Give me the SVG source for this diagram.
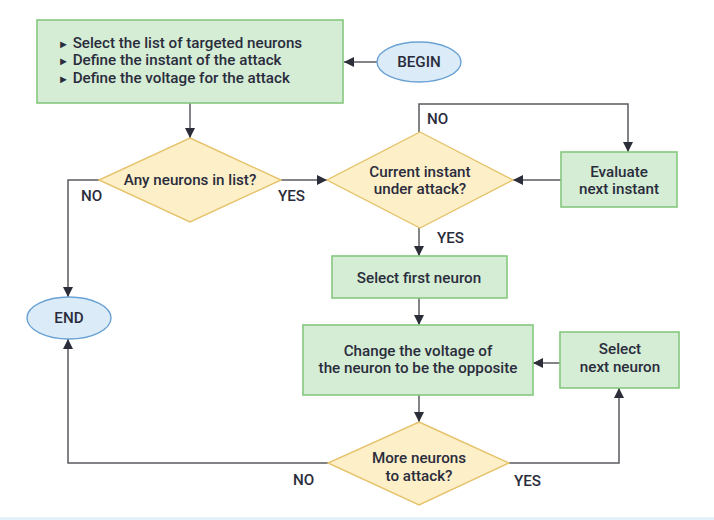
<svg xmlns="http://www.w3.org/2000/svg" width="714" height="520" viewBox="0 0 714 520">
<defs>
<marker id="ah" viewBox="0 0 10 10" refX="10" refY="5" markerWidth="10" markerHeight="10" markerUnits="userSpaceOnUse" orient="auto">
<path d="M0,0 L10,5 L0,10 Z" fill="#2b2d38"/>
</marker>
<style>
.box{fill:#d5ecd5;stroke:#86c87e;stroke-width:1.6}
.dia{fill:#fdf0c9;stroke:#e6c26a;stroke-width:1.4}
.ell{fill:#dcebf8;stroke:#6aa2d4;stroke-width:1.4}
.t{font-family:Roboto,"Liberation Sans",sans-serif;font-weight:500;font-size:15.2px;fill:#2a2c3c}
.c{text-anchor:middle}
.ln{fill:none;stroke:#5a5a60;stroke-width:1.5}
.bul{font-size:11px}
</style>
</defs>
<rect x="0" y="0" width="714" height="520" fill="#ffffff"/>
<rect x="0" y="517" width="714" height="3" fill="#e3f2f8"/>

<g id="connectors">
<path class="ln" d="M377,62 H344" marker-end="url(#ah)"/>
<path class="ln" d="M190,103 V138" marker-end="url(#ah)"/>
<path class="ln" d="M281,180 H327" marker-end="url(#ah)"/>
<path class="ln" d="M99,180 H68 V297" marker-end="url(#ah)"/>
<path class="ln" d="M419,132 V104 H628 V152" marker-end="url(#ah)"/>
<path class="ln" d="M561,180 H513" marker-end="url(#ah)"/>
<path class="ln" d="M419,228 V256" marker-end="url(#ah)"/>
<path class="ln" d="M419,298 V325" marker-end="url(#ah)"/>
<path class="ln" d="M560,363 H533" marker-end="url(#ah)"/>
<path class="ln" d="M419,395 V422" marker-end="url(#ah)"/>
<path class="ln" d="M328,463 H68 V339" marker-end="url(#ah)"/>
<path class="ln" d="M509,463 H619 V388" marker-end="url(#ah)"/>
<text class="t" x="81" y="201">NO</text>
<text class="t" x="278" y="201">YES</text>
<text class="t" x="427" y="124">NO</text>
<text class="t" x="437" y="243">YES</text>
<text class="t" x="293" y="485">NO</text>
<text class="t" x="514" y="486">YES</text>
</g>

<g id="setup">
<rect class="box" x="37" y="20" width="306" height="83"/>
<text class="t" x="58" y="48"><tspan class="bul">►</tspan> Select the list of targeted neurons</text>
<text class="t" x="58" y="65"><tspan class="bul">►</tspan> Define the instant of the attack</text>
<text class="t" x="58" y="83"><tspan class="bul">►</tspan> Define the voltage for the attack</text>
</g>

<g id="begin">
<ellipse class="ell" cx="419" cy="62" rx="42" ry="20"/>
<text class="t c" x="419" y="67">BEGIN</text>
</g>

<g id="any-neurons">
<polygon class="dia" points="190,138 281,180 190,222 99,180"/>
<text class="t c" x="190" y="185">Any neurons in list?</text>
</g>

<g id="current-instant">
<polygon class="dia" points="420,132 513,180 420,228 327,180"/>
<text class="t c" x="420" y="177">Current instant</text>
<text class="t c" x="420" y="194">under attack?</text>
</g>

<g id="evaluate">
<rect class="box" x="561" y="152" width="116" height="55"/>
<text class="t c" x="619" y="177">Evaluate</text>
<text class="t c" x="619" y="194">next instant</text>
</g>

<g id="end">
<ellipse class="ell" cx="69" cy="318" rx="42" ry="21"/>
<text class="t c" x="69" y="323">END</text>
</g>

<g id="select-first">
<rect class="box" x="332" y="256" width="175" height="42"/>
<text class="t c" x="419" y="283">Select first neuron</text>
</g>

<g id="change-voltage">
<rect class="box" x="303" y="325" width="230" height="70"/>
<text class="t c" x="418" y="356">Change the voltage of</text>
<text class="t c" x="418" y="373">the neuron to be the opposite</text>
</g>

<g id="select-next">
<rect class="box" x="560" y="332" width="119" height="56"/>
<text class="t c" x="620" y="354">Select</text>
<text class="t c" x="620" y="372">next neuron</text>
</g>

<g id="more-neurons">
<polygon class="dia" points="419,422 509,463 419,505 328,463"/>
<text class="t c" x="419" y="463">More neurons</text>
<text class="t c" x="419" y="481">to attack?</text>
</g>
</svg>
